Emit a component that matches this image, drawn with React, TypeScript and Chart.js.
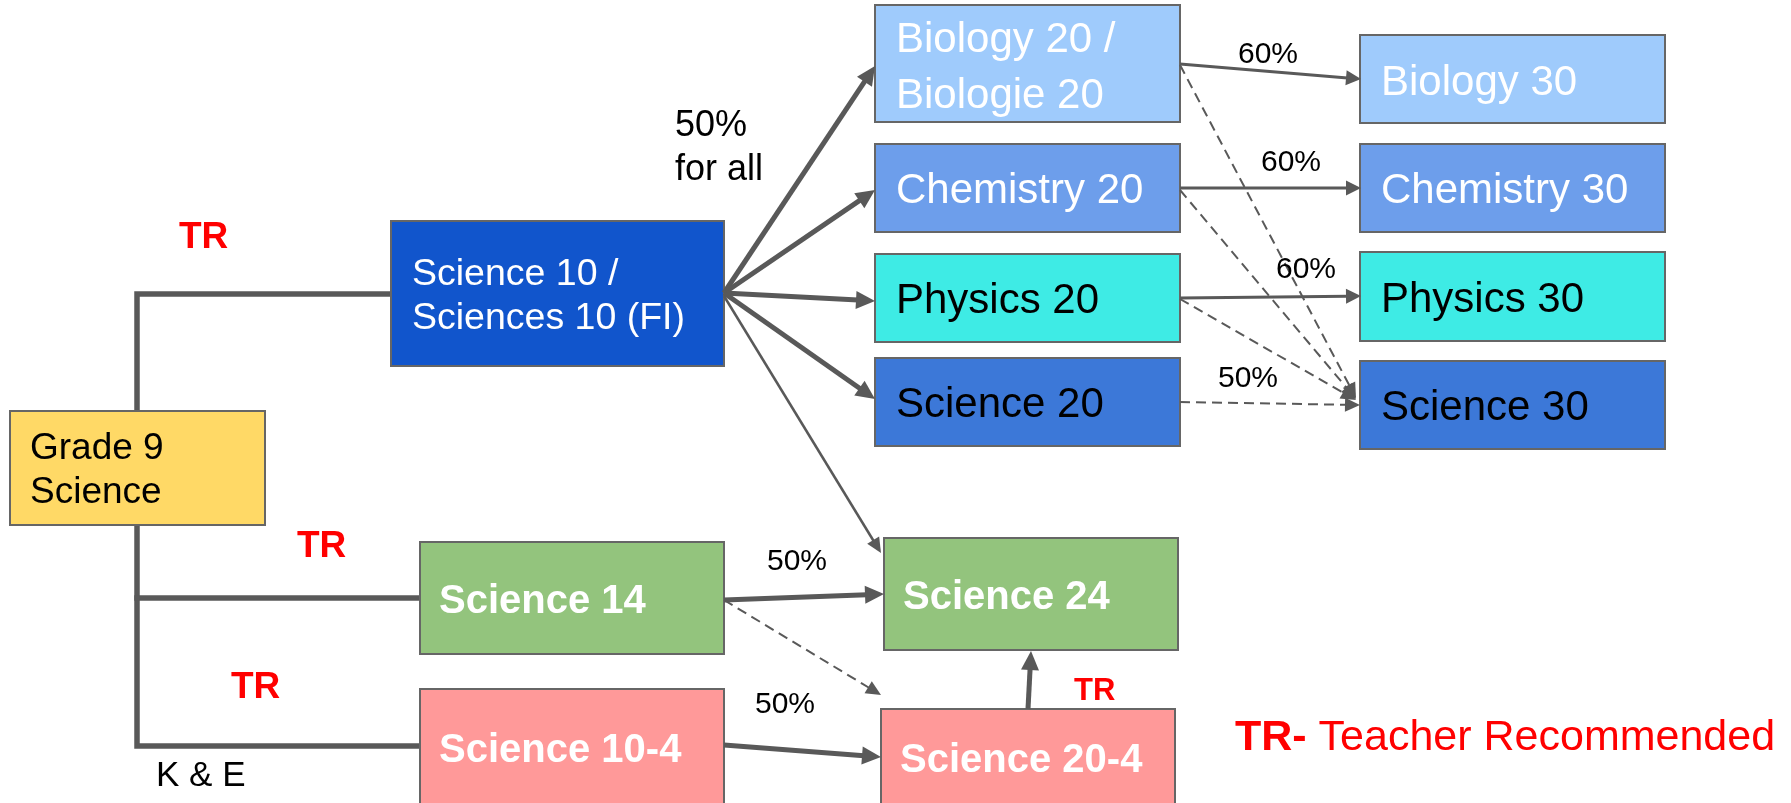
import { useEffect, useRef } from "react";
import { Chart, registerables } from "chart.js";

Chart.register(...registerables);

// ---------- DATA ----------
const nodeNames = [
  "Grade 9\nScience",
  "Science 10 /\nSciences 10 (FI)",
  "Science 14",
  "Science 10-4",
  "Biology 20 /\nBiologie 20",
  "Chemistry 20",
  "Physics 20",
  "Science 20",
  "Biology 30",
  "Chemistry 30",
  "Physics 30",
  "Science 30",
  "Science 24",
  "Science 20-4",
];
// node extents in diagram units
const nodeLeft = [10, 391, 420, 420, 875, 875, 875, 875, 1360, 1360, 1360, 1360, 884, 881];
const nodeTop = [411, 221, 542, 689, 5, 144, 254, 358, 35, 144, 252, 361, 538, 709];
const nodeRight = [265, 724, 724, 724, 1180, 1180, 1180, 1180, 1665, 1665, 1665, 1665, 1178, 1175];
const nodeBottom = [525, 366, 654, 806, 122, 232, 342, 446, 123, 232, 341, 449, 650, 806];

// arrows: start and tip
const edgeX1 = [724, 724, 724, 724, 724, 724, 1028, 724, 1180, 1180, 1180, 1180, 1180, 1180, 1180, 724];
const edgeY1 = [293, 293, 293, 293, 600, 745, 709, 296, 64, 188, 298, 402, 65, 190, 299, 600];
const edgeX2 = [875, 875, 875, 875, 884, 881, 1031, 881, 1361, 1361, 1361, 1360, 1356, 1356, 1356, 881];
const edgeY2 = [66, 190, 301, 399, 594, 757, 651, 553, 79, 188, 296, 405, 398, 399, 400, 695];
const edgeKind = ["thick", "thick", "thick", "thick", "thick", "thick", "thick", "thin", "mid", "mid", "mid", "dash", "dash", "dash", "dash", "dash"];

// elbow connectors from Grade 9
const connectorX = [[391, 137, 137, 420], [137, 420]];
const connectorY = [[294, 294, 746, 746], [598, 598]];

// annotations
const noteTexts = ["TR", "TR", "TR", "TR", "50%", "for all", "60%", "60%", "60%", "50%", "50%", "50%", "K & E"];
const noteX = [179, 297, 231, 1074, 675, 675, 1238, 1261, 1276, 1218, 767, 755, 156];
const noteY = [248, 557, 698, 700, 136, 180, 63, 171, 278, 387, 570, 713, 786];

const legendBold = "TR-";
const legendRest = " Teacher Recommended";

// ---------- STYLES ----------
const nodeFill = [
  "#FFD966", "#1155CC", "#93C47D", "#FF9999",
  "#9FCBFC", "#6D9EEB", "#3EEBE5", "#3C78D8",
  "#9FCBFC", "#6D9EEB", "#3EEBE5", "#3C78D8",
  "#93C47D", "#FF9999",
];
const nodeTextColor = [
  "#000000", "#FFFFFF", "#FFFFFF", "#FFFFFF",
  "#FFFFFF", "#FFFFFF", "#000000", "#000000",
  "#FFFFFF", "#FFFFFF", "#000000", "#000000",
  "#FFFFFF", "#FFFFFF",
];
const nodeFont = [
  "37px", "37.5px", "bold 40px", "bold 40px",
  "42px", "42px", "42px", "42px",
  "42px", "42px", "42px", "42px",
  "bold 40px", "bold 40px",
];
const nodeTextX = [30, 412, 439, 439, 896, 896, 896, 896, 1381, 1381, 1381, 1381, 903, 900];
const nodeBaselines = [
  [459, 503], [285, 329], [613], [762],
  [52, 108], [203], [313], [417],
  [95], [203], [312], [420],
  [609], [772],
];
const noteFont = [
  "bold 37px", "bold 37px", "bold 37px", "bold 31px",
  "36px", "36px", "30px", "30px", "30px", "30px", "30px", "30px", "35px",
];
const noteColor = ["#FF0000", "#FF0000", "#FF0000", "#FF0000", "#000", "#000", "#000", "#000", "#000", "#000", "#000", "#000", "#000"];

const FAMILY = '"Liberation Sans", Arial, sans-serif';
const LINE = "#595959";

const flowPlugin = {
  id: "flow",
  afterDatasetsDraw(chart: any) {
    const ctx: CanvasRenderingContext2D = chart.ctx;
    const sx = chart.scales.x;
    const sy = chart.scales.y;
    const X = (v: number) => sx.getPixelForValue(v);
    const Y = (v: number) => sy.getPixelForValue(v);
    ctx.save();

    // connectors
    ctx.strokeStyle = LINE;
    ctx.lineWidth = 5.5;
    ctx.lineJoin = "miter";
    ctx.lineCap = "square";
    connectorX.forEach((xs, i) => {
      ctx.beginPath();
      xs.forEach((x, j) => {
        const px = X(x), py = Y(connectorY[i][j]);
        if (j === 0) ctx.moveTo(px, py); else ctx.lineTo(px, py);
      });
      ctx.stroke();
    });

    // boxes
    nodeNames.forEach((_, i) => {
      const x = X(nodeLeft[i]), y = Y(nodeTop[i]);
      const w = X(nodeRight[i]) - x, h = Y(nodeBottom[i]) - y;
      ctx.fillStyle = nodeFill[i];
      ctx.fillRect(x, y, w, h);
      ctx.strokeStyle = "#666666";
      ctx.lineWidth = 2;
      ctx.setLineDash([]);
      ctx.strokeRect(x, y, w, h);
    });

    // arrows
    edgeKind.forEach((kind, i) => {
      const x1 = X(edgeX1[i]), y1 = Y(edgeY1[i]);
      const x2 = X(edgeX2[i]), y2 = Y(edgeY2[i]);
      const dx = x2 - x1, dy = y2 - y1;
      const len = Math.hypot(dx, dy);
      const ux = dx / len, uy = dy / len;
      let lw = 5, hl = 19, hw = 9;
      if (kind === "thin") { lw = 2.5; hl = 15; hw = 7; }
      if (kind === "mid") { lw = 3; hl = 15; hw = 7.5; }
      if (kind === "dash") { lw = 2; hl = 15; hw = 7; }
      ctx.strokeStyle = LINE;
      ctx.fillStyle = LINE;
      ctx.lineWidth = lw;
      ctx.lineCap = "butt";
      ctx.setLineDash(kind === "dash" ? [10, 6] : []);
      const bx = x2 - ux * hl * 0.9, by = y2 - uy * hl * 0.9;
      ctx.beginPath();
      ctx.moveTo(x1, y1);
      ctx.lineTo(bx, by);
      ctx.stroke();
      ctx.setLineDash([]);
      const hx = x2 - ux * hl, hy = y2 - uy * hl;
      ctx.beginPath();
      ctx.moveTo(x2, y2);
      ctx.lineTo(hx - uy * hw, hy + ux * hw);
      ctx.lineTo(hx + uy * hw, hy - ux * hw);
      ctx.closePath();
      ctx.fill();
    });

    // node labels
    ctx.textBaseline = "alphabetic";
    ctx.textAlign = "left";
    nodeNames.forEach((name, i) => {
      ctx.font = `${nodeFont[i]} ${FAMILY}`;
      ctx.fillStyle = nodeTextColor[i];
      name.split("\n").forEach((line, j) => {
        ctx.fillText(line, X(nodeTextX[i]), Y(nodeBaselines[i][j]));
      });
    });

    // notes
    noteTexts.forEach((t, i) => {
      ctx.font = `${noteFont[i]} ${FAMILY}`;
      ctx.fillStyle = noteColor[i];
      ctx.fillText(t, X(noteX[i]), Y(noteY[i]));
    });

    // legend
    ctx.fillStyle = "#FF0000";
    ctx.font = `bold 43px ${FAMILY}`;
    const lx = X(1235), ly = Y(750);
    ctx.fillText(legendBold, lx, ly);
    const bw = ctx.measureText(legendBold).width;
    ctx.font = `43px ${FAMILY}`;
    ctx.fillText(legendRest, lx + bw, ly);

    ctx.restore();
  },
};

export default function App() {
  const ref = useRef<HTMLCanvasElement | null>(null);
  useEffect(() => {
    document.body.style.margin = "0";
    const canvas = ref.current;
    if (!canvas) return;
    const centers = nodeNames.map((_, i) => ({
      x: (nodeLeft[i] + nodeRight[i]) / 2,
      y: (nodeTop[i] + nodeBottom[i]) / 2,
    }));
    const chart = new Chart(canvas, {
      type: "scatter",
      data: {
        datasets: [
          { label: "nodes", data: centers, pointRadius: 0, pointHoverRadius: 0 },
        ],
      },
      options: {
        animation: false,
        responsive: false,
        devicePixelRatio: 1,
        layout: { padding: 0 },
        events: [],
        scales: {
          x: { type: "linear", min: 0, max: 1791, display: false },
          y: { type: "linear", min: 0, max: 803, reverse: true, display: false },
        },
        plugins: {
          legend: { display: false },
          tooltip: { enabled: false },
          title: { display: false },
        },
      },
      plugins: [flowPlugin],
    });
    return () => chart.destroy();
  }, []);
  return (
    <div style={{ position: "absolute", left: 0, top: 0, width: 1791, height: 803, background: "#fff" }}>
      <canvas ref={ref} width={1791} height={803} style={{ display: "block" }} />
    </div>
  );
}
